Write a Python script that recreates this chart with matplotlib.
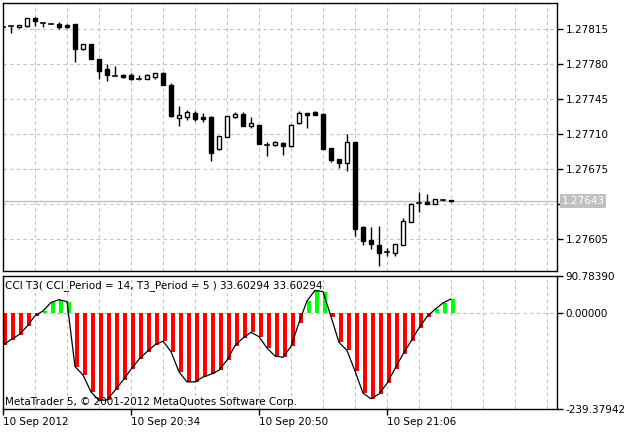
import matplotlib
matplotlib.use("Agg")
import matplotlib.pyplot as plt
from matplotlib.patches import Rectangle

opens  = [1.27817,1.27818,1.27817,1.27818,1.27826,1.27821,1.27820,1.27820,1.27819,1.27820,1.27795,1.27800,1.27785,1.27775,1.27768,
          1.27769,1.27769,1.27765,1.27765,1.27767,1.27771,1.27759,1.27726,1.27727,1.27731,1.27727,1.27727,1.27695,1.27707,1.27727,
          1.27730,1.27718,1.27719,1.27699,1.27699,1.27701,1.27698,1.27721,1.27731,1.27732,1.27730,1.27696,1.27685,1.27681,1.27702,
          1.27617,1.27604,1.27599,1.27592,1.27591,1.27599,1.27622,1.27641,1.27642,1.27640,1.27644,1.27644]
highs  = [1.27818,1.27818,1.27819,1.27826,1.27827,1.27821,1.27820,1.27822,1.27820,1.27820,1.27800,1.27800,1.27785,1.27780,1.27778,
          1.27770,1.27771,1.27769,1.27770,1.27771,1.27772,1.27761,1.27738,1.27734,1.27733,1.27731,1.27728,1.27708,1.27728,1.27732,
          1.27732,1.27727,1.27719,1.27702,1.27703,1.27702,1.27720,1.27733,1.27731,1.27733,1.27731,1.27696,1.27685,1.27710,1.27702,
          1.27618,1.27617,1.27618,1.27596,1.27600,1.27626,1.27641,1.27652,1.27650,1.27645,1.27645,1.27644]
lows   = [1.27816,1.27811,1.27816,1.27817,1.27818,1.27817,1.27820,1.27815,1.27816,1.27782,1.27794,1.27785,1.27765,1.27763,1.27768,
          1.27766,1.27764,1.27764,1.27765,1.27765,1.27759,1.27727,1.27718,1.27724,1.27723,1.27722,1.27683,1.27694,1.27707,1.27726,
          1.27718,1.27716,1.27700,1.27688,1.27698,1.27689,1.27697,1.27720,1.27716,1.27729,1.27695,1.27682,1.27676,1.27673,1.27608,
          1.27599,1.27595,1.27578,1.27588,1.27588,1.27599,1.27622,1.27632,1.27640,1.27640,1.27643,1.27642]
closes = [1.27817,1.27818,1.27819,1.27826,1.27823,1.27821,1.27820,1.27817,1.27817,1.27795,1.27800,1.27785,1.27773,1.27769,1.27768,
          1.27767,1.27765,1.27765,1.27769,1.27771,1.27759,1.27728,1.27729,1.27732,1.27725,1.27725,1.27691,1.27708,1.27728,1.27730,
          1.27718,1.27721,1.27700,1.27699,1.27702,1.27698,1.27719,1.27731,1.27729,1.27729,1.27695,1.27684,1.27681,1.27702,1.27615,
          1.27603,1.27600,1.27591,1.27592,1.27600,1.27623,1.27640,1.27641,1.27640,1.27645,1.27644,1.27643]

cci_t3 = [-81,-67,-55,-34,-8,4,25,32,27,-134,-155,-197,-218,-217,-193,-168,-141,-116,-97,-80,-71,-97,-147,-172,-172,-160,-153,-143,
          -118,-82,-63,-49,-60,-88,-108,-111,-84,-25,29,55,52,-10,-74,-94,-145,-200,-214,-202,-176,-139,-103,-71,-38,-10,8,24,33.60294]

price_ticks = [1.27605,1.27640,1.27675,1.27710,1.27745,1.27780,1.27815]
price_labels = ["1.27605","","1.27675","1.27710","1.27745","1.27780","1.27815"]
last_price = 1.27643
time_pos = [0,16,32,48]
time_labels = ["10 Sep 2012","10 Sep 20:34","10 Sep 20:50","10 Sep 21:06"]
ind_max, ind_min = 90.78390, -239.37942

W,H = 629,437
fig = plt.figure(figsize=(W/100,H/100), dpi=100)
def ax_at(l,t,r,b):
    return fig.add_axes([l/W, 1-b/H, (r-l)/W, (b-t)/H])

FS = 7.5
grid_kw = dict(color="#C0C0C0", lw=0.8, ls=(0,(3,3)))
xmax = (557-3)/8

ax = ax_at(3,3,557,271)
ax.set_xlim(0,xmax); ax.set_ylim(1.27573,1.27841)
for g in range(4,70,4):
    ax.axvline(g, zorder=0, **grid_kw)
for p in price_ticks:
    ax.axhline(p, zorder=0, **grid_kw)
ax.axhline(last_price, color="#C0C0C0", lw=1, zorder=1)
for i,(o,h,l,c) in enumerate(zip(opens,highs,lows,closes)):
    ax.plot([i,i],[l,h],color="black",lw=1,zorder=2,solid_capstyle="butt")
    bot, top = min(o,c), max(o,c)
    hgt = max(top-bot, 0.0000001)
    if top-bot < 0.000005:
        ax.plot([i-0.3,i+0.3],[o,o],color="black",lw=1.2,zorder=3)
    else:
        ax.add_patch(Rectangle((i-0.3,bot),0.6,hgt,facecolor="black" if c<o else "white",
                               edgecolor="black",lw=1,zorder=3))
ax.set_xticks([]); ax.set_yticks(price_ticks); ax.set_yticklabels(price_labels)
ax.yaxis.tick_right()
ax.tick_params(axis="y", direction="out", length=4, width=1, labelsize=FS, pad=2)
for s in ax.spines.values(): s.set_linewidth(1)
ax.text(1.008, (last_price-1.27573)/(1.27841-1.27573), "1.27643", transform=ax.transAxes,
        fontsize=FS, color="white", va="center", ha="left",
        bbox=dict(facecolor="#C0C0C0", edgecolor="none", pad=1.2))

bx = ax_at(3,276,557,409)
bx.set_xlim(0,xmax); bx.set_ylim(ind_min, ind_max)
for g in range(4,70,4):
    bx.axvline(g, zorder=0, **grid_kw)
bx.axhline(0, zorder=0, **grid_kw)
cols = ["#00FF00" if v>0 else "#FF0000" for v in cci_t3]
bx.bar(range(len(cci_t3)), cci_t3, width=0.5, align="edge", color=cols, zorder=2)
bx.plot(range(len(cci_t3)), cci_t3, color="black", lw=0.9, zorder=3)
bx.set_yticks([ind_max,0,ind_min]); bx.set_yticklabels(["90.78390","0.00000","-239.37942"])
bx.yaxis.tick_right()
bx.tick_params(axis="y", direction="out", length=4, width=1, labelsize=FS, pad=2)
bx.set_xticks(time_pos); bx.set_xticklabels(time_labels, ha="left")
bx.tick_params(axis="x", direction="out", length=4, width=1, labelsize=FS, pad=2)
for s in bx.spines.values(): s.set_linewidth(1)
bx.text(0.004, 0.93, "CCI T3( CCI_Period = 14, T3_Period = 5 ) 33.60294 33.60294",
        transform=bx.transAxes, fontsize=FS, va="center", ha="left")
bx.text(0.004, 0.05, "MetaTrader 5, \u00a9 2001-2012 MetaQuotes Software Corp.",
        transform=bx.transAxes, fontsize=FS, va="center", ha="left")

fig.savefig("out.png", dpi=100)
